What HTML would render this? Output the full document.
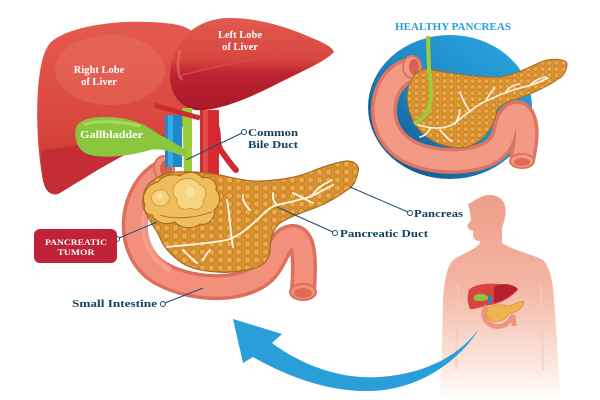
<!DOCTYPE html>
<html><head><meta charset="utf-8"><style>
html,body{margin:0;padding:0;background:#fff;}
svg{display:block;}
text{font-family:"Liberation Serif",serif;font-weight:bold;}
</style></head><body>
<svg width="600" height="400" viewBox="0 0 600 400" xmlns="http://www.w3.org/2000/svg">
<defs>
 <linearGradient id="bodyG" x1="0" y1="190" x2="0" y2="400" gradientUnits="userSpaceOnUse">
  <stop offset="0" stop-color="#ee9c86"/>
  <stop offset="0.45" stop-color="#f3b5a3"/>
  <stop offset="0.8" stop-color="#fbe2da"/>
  <stop offset="1" stop-color="#ffffff"/>
 </linearGradient>
 <linearGradient id="blueG" x1="1" y1="0" x2="0" y2="1">
  <stop offset="0" stop-color="#2aa8e0"/>
  <stop offset="0.5" stop-color="#1e8ac6"/>
  <stop offset="1" stop-color="#0c4478"/>
 </linearGradient>
 <linearGradient id="rlG" x1="0" y1="0" x2="0" y2="1">
  <stop offset="0" stop-color="#e45a4e"/>
  <stop offset="0.6" stop-color="#d9473f"/>
  <stop offset="1" stop-color="#c22e35"/>
 </linearGradient>
 <linearGradient id="llG" x1="0" y1="0" x2="0" y2="1">
  <stop offset="0" stop-color="#e25a4e"/>
  <stop offset="0.45" stop-color="#d7463f"/>
  <stop offset="0.6" stop-color="#bd2430"/>
  <stop offset="1" stop-color="#a9182a"/>
 </linearGradient>
 <pattern id="cells" width="9" height="8" patternUnits="userSpaceOnUse">
  <rect width="9" height="8" fill="#d9922f"/>
  <circle cx="4.5" cy="4" r="3.2" fill="#eba947" stroke="#c07a26" stroke-width="0.8"/>
 </pattern>
 <pattern id="cells2" width="7" height="6" patternUnits="userSpaceOnUse">
  <rect width="7" height="6" fill="#da9530"/>
  <circle cx="3.5" cy="3" r="2.4" fill="#eca948" stroke="#c27c27" stroke-width="0.7"/>
 </pattern>
</defs>

<!-- Human silhouette -->
<path d="M484,196 C493,193 503,197 505,206 C507,214 504,222 502,228 L502,243 C512,250 532,254 543,260 C551,268 553,285 554,300 L557,340 L560,400 L440,400 L442,340 L443,300 C444,284 446,268 453,260 C463,253 475,250 480,243 L480,241 C476,241 474,240 473,236 L473,231 L469,229 L467,226 L471,220 L470,212 L468,204 C473,202 477,198 484,196 Z" fill="url(#bodyG)"/>
<path d="M458,285 L456,370 M541,285 L543,370" stroke="#f7c9bb" stroke-width="2" fill="none" opacity="0.7"/>
<!-- mini organs -->
<path d="M469,290 C475,283 495,282 512,286 L518,290 C510,298 500,304 490,305 C480,307 473,310 470,309 C467,302 467,296 469,290 Z" fill="#d8443e"/>
<path d="M494,287 C503,282 513,284 518,289 C510,297 500,302 494,303 Z" fill="#b82030"/>
<path d="M474,296 C478,292 486,294 490,298 C486,301 478,302 474,300 Z" fill="#8cc63e"/>
<rect x="488" y="296" width="4" height="7" fill="#1e88c8"/>
<path d="M487,306 C481,313 484,323 494,326 C503,328 509,323 511,318 C513,314 514,318 514,326" fill="none" stroke="#f0937f" stroke-width="5"/>
<path d="M487,310 C490,304 500,304 508,306 C514,305 520,300 524,302 C523,309 515,312 509,314 C505,321 495,324 490,320 C486,317 485,313 487,310 Z" fill="#eeb54f" stroke="#c98a2e" stroke-width="0.6"/>

<!-- Blue arrow -->
<path d="M233,319 L282,334 L272,343 C300,364 340,380 380,377 C420,374 455,360 479,329 C460,360 420,390 370,391 C330,392 290,378 253,357 L243,363 Z" fill="#2a9ed9"/>

<!-- Healthy pancreas inset -->
<text x="395" y="30" font-size="10" fill="#2a9fd6" textLength="116" lengthAdjust="spacingAndGlyphs">HEALTHY PANCREAS</text>
<ellipse cx="450" cy="107" rx="82" ry="72" fill="url(#blueG)"/>
<path d="M412,70 C385,75 375,115 393,138 C408,158 440,163 465,160 C490,157 503,148 506,128 C508,115 518,108 523,118 C528,130 525,145 522,160" fill="none" stroke="#de7563" stroke-width="26"/>
<path d="M412,70 C385,75 375,115 393,138 C408,158 440,163 465,160 C490,157 503,148 506,128 C508,115 518,108 523,118 C528,130 525,145 522,160" fill="none" stroke="#f39a86" stroke-width="19"/>
<ellipse cx="412" cy="67" rx="9" ry="11" fill="#f39a86" stroke="#de7563" stroke-width="2"/>
<ellipse cx="414" cy="67" rx="5" ry="8" fill="#d9604f"/>
<ellipse cx="522" cy="161" rx="12" ry="7" fill="#f39a86" stroke="#de7563" stroke-width="2"/>
<ellipse cx="522" cy="162" rx="8" ry="4" fill="#e06a58"/>
<path d="M413,77 C420,68 428,68 433,70 C455,74 480,78 500,77 C520,74 535,63 547,60 C558,58 568,60 567,65 C566,72 562,77 560,78 C545,88 530,95 513,100 C505,103 500,105 497,110 C495,125 485,140 470,146 C458,150 440,146 428,138 C417,130 410,118 408,105 C406,95 408,85 413,77 Z" fill="url(#cells2)" stroke="#a86a22" stroke-width="1"/>
<path d="M428,36 L429,70 C431,85 432,95 430,105 C428,115 420,120 414,124" fill="none" stroke="#9ccd3a" stroke-width="4"/>
<g fill="none" stroke="#fff6e6" stroke-width="1.6" stroke-linecap="round">
 <path d="M418,125 C430,128 440,130 452,125 C462,118 470,110 480,104 C492,98 505,92 520,88 C530,86 540,82 548,78"/>
 <path d="M440,130 C445,135 448,140 452,141"/>
 <path d="M455,124 C458,118 460,114 460,110"/>
 <path d="M470,112 C465,104 462,98 460,92"/>
 <path d="M486,100 C490,94 492,90 495,88"/>
 <path d="M505,93 C510,86 515,84 520,84"/>
 <path d="M530,85 C535,80 540,78 546,77"/>
 <path d="M430,128 C428,134 424,136 420,137"/>
</g>

<!-- Main intestine -->
<path d="M163,172 C130,190 122,250 160,273 C195,293 250,292 268,268 C278,255 280,238 292,237 C305,236 305,262 303,291" fill="none" stroke="#dd6f5d" stroke-width="26"/>
<path d="M163,172 C130,190 122,250 160,273 C195,293 250,292 268,268 C278,255 280,238 292,237 C305,236 305,262 303,291" fill="none" stroke="#f2907c" stroke-width="19"/>
<path d="M150,200 C138,225 145,255 170,270" fill="none" stroke="#f6a895" stroke-width="6" opacity="0.7"/>
<ellipse cx="164" cy="168" rx="10" ry="12" fill="#f2907c" stroke="#dd6f5d" stroke-width="2"/>
<ellipse cx="166" cy="169" rx="6" ry="9" fill="#d8604e"/>
<ellipse cx="303" cy="292" rx="13" ry="8" fill="#f2907c" stroke="#dd6f5d" stroke-width="2"/>
<ellipse cx="303" cy="293" rx="9" ry="5" fill="#e06a58"/>

<!-- Liver right lobe -->
<path d="M50,43 C65,28 110,20 150,22 C175,23 190,26 195,35 L190,120 C175,135 160,142 140,148 C115,158 85,178 58,194 C48,196 44,188 42,175 C36,140 36,95 40,72 C42,58 45,50 50,43 Z" fill="url(#rlG)"/>
<path d="M42,150 C70,148 110,138 165,135 L140,148 C115,158 85,178 58,194 C48,196 44,188 42,175 Z" fill="#c42d35"/>
<ellipse cx="110" cy="70" rx="55" ry="35" fill="#ec7a68" opacity="0.35"/>
<!-- Liver left lobe -->
<path d="M177,50 C185,30 205,18 230,18 C260,18 290,28 312,38 C325,43 333,48 334,52 C325,62 300,72 275,85 C245,100 215,112 195,110 C178,106 170,92 170,77 C170,65 173,57 177,50 Z" fill="url(#llG)"/>
<path d="M182,75 C220,65 270,55 318,50" fill="none" stroke="#d24a50" stroke-width="2" opacity="0.8"/>
<path d="M180,50 C178,62 176,72 182,80" fill="none" stroke="#ec7a68" stroke-width="3" opacity="0.5"/>

<!-- Vessels -->
<rect x="165" y="115" width="17" height="52" fill="#1e88c8"/>
<rect x="168" y="115" width="5" height="52" fill="#3ba8e2"/>
<rect x="200" y="110" width="19" height="68" fill="#d52a30"/>
<rect x="203" y="110" width="5" height="68" fill="#e24a48"/>
<path d="M182,108 L192,108 L192,172 L184,172 Z" fill="#9ccd3a"/>
<path d="M155,105 C170,110 185,114 200,118" fill="none" stroke="#cf2a30" stroke-width="5"/>
<path d="M212,122 C222,128 214,142 222,152 C228,160 232,166 236,170" fill="none" stroke="#cf2a30" stroke-width="6" stroke-linecap="round"/>
<!-- Gallbladder -->
<path d="M76,128 C78,118 100,115 120,118 C140,121 150,128 160,135 C170,140 178,145 186,150 L185,157 C170,151 160,148 150,150 C130,156 100,160 85,153 C76,147 74,137 76,128 Z" fill="#8cc63e"/>
<path d="M84,125 C95,120 120,121 140,126" fill="none" stroke="#b3dc6a" stroke-width="3" opacity="0.8"/>
<text x="80" y="138" font-size="10.5" fill="#ffffff" textLength="63" lengthAdjust="spacingAndGlyphs">Gallbladder</text>

<!-- Main pancreas -->
<path d="M143,207 C142,195 145,186 152,181 C160,175 168,172 177,172 C195,171 205,173 215,174 C235,178 248,182 262,181 C280,180 295,178 310,172 C325,166 338,162 347,161 C355,161 360,166 358,172 C356,180 354,185 350,188 C340,195 330,202 317,207 C300,213 287,218 280,223 C273,228 270,240 270,252 C268,262 262,266 255,268 C240,272 228,273 217,272 C200,271 190,268 182,263 C172,256 164,248 160,238 C156,228 148,220 143,207 Z" fill="url(#cells)" stroke="#a86a22" stroke-width="1.2"/>
<!-- Tumor -->
<path d="M145,205 C140,195 148,184 158,182 C162,176 172,173 180,176 C188,170 198,172 202,178 C210,176 218,182 216,190 C222,196 220,206 214,210 C216,218 208,226 200,224 C192,230 180,228 175,222 C165,226 155,222 152,215 C146,214 143,210 145,205 Z" fill="#efbd5c" stroke="#9e6a26" stroke-width="1"/>
<path d="M178,182 C185,176 196,178 200,185 C206,186 208,195 203,200 C205,208 196,212 190,208 C183,212 175,206 177,199 C171,195 172,185 178,182 Z" fill="#f7d47e" stroke="#c99238" stroke-width="0.8"/>
<path d="M152,195 C156,188 165,188 168,194 C172,200 166,207 160,206 C154,206 150,200 152,195 Z" fill="#f6cf76" stroke="#c99238" stroke-width="0.7"/>
<circle cx="190" cy="192" r="5" fill="#fae3a0"/>
<circle cx="160" cy="196" r="3" fill="#fae3a0"/>
<path d="M160,215 C175,220 195,218 212,212" fill="none" stroke="#9e6a26" stroke-width="0.9"/>
<!-- Ducts -->
<g fill="none" stroke="#fff6e6" stroke-width="1.8" stroke-linecap="round">
 <path d="M167,247 C185,245 205,244 227,240 C240,236 250,226 257,220 C265,212 270,207 277,205 C290,202 300,200 312,196 C320,192 327,188 333,185"/>
 <path d="M227,200 C230,215 230,230 233,247"/>
 <path d="M210,250 C206,254 204,258 203,260"/>
 <path d="M183,250 C188,255 193,260 197,263"/>
 <path d="M273,193 C272,198 274,202 277,205"/>
 <path d="M293,193 C300,196 306,200 313,203"/>
 <path d="M250,210 C245,205 242,200 243,195"/>
 <path d="M312,196 C318,186 325,184 332,180"/>
</g>

<!-- Liver labels -->
<text x="99" y="73" font-size="10.5" fill="#ffffff" text-anchor="middle">Right Lobe</text>
<text x="99" y="85" font-size="10.5" fill="#ffffff" text-anchor="middle">of Liver</text>
<text x="240" y="38" font-size="10.5" fill="#ffffff" text-anchor="middle">Left Lobe</text>
<text x="240" y="50" font-size="10.5" fill="#ffffff" text-anchor="middle">of Liver</text>

<!-- Leader lines -->
<g stroke="#1d4e6e" stroke-width="1" fill="#fff">
 <line x1="186" y1="160" x2="242" y2="133"/>
 <circle cx="244" cy="132" r="2.5"/>
 <line x1="350" y1="187" x2="408" y2="212"/>
 <circle cx="410" cy="213" r="2.5"/>
 <line x1="277" y1="207" x2="333" y2="232"/>
 <circle cx="335" cy="233" r="2.5"/>
 <line x1="157" y1="222" x2="119" y2="238"/>
 <circle cx="117" cy="239" r="2.5"/>
 <line x1="203" y1="288" x2="165" y2="303"/>
 <circle cx="163" cy="304" r="2.5"/>
</g>

<!-- Labels -->
<text x="248" y="136" font-size="11" fill="#113f5e" textLength="50" lengthAdjust="spacingAndGlyphs">Common</text>
<text x="248" y="148" font-size="11" fill="#113f5e" textLength="50" lengthAdjust="spacingAndGlyphs">Bile Duct</text>
<text x="414" y="217" font-size="11" fill="#113f5e" textLength="49" lengthAdjust="spacingAndGlyphs">Pancreas</text>
<text x="340" y="237" font-size="11" fill="#113f5e" textLength="88" lengthAdjust="spacingAndGlyphs">Pancreatic Duct</text>
<text x="72" y="307" font-size="11" fill="#113f5e" textLength="85" lengthAdjust="spacingAndGlyphs">Small Intestine</text>

<rect x="34" y="229" width="83" height="34" rx="6" fill="#c02237"/>
<text x="76" y="245" font-size="8.5" fill="#ffffff" text-anchor="middle" textLength="62" lengthAdjust="spacingAndGlyphs">PANCREATIC</text>
<text x="76" y="255" font-size="8.5" fill="#ffffff" text-anchor="middle" textLength="37" lengthAdjust="spacingAndGlyphs">TUMOR</text>
</svg>
</body></html>
